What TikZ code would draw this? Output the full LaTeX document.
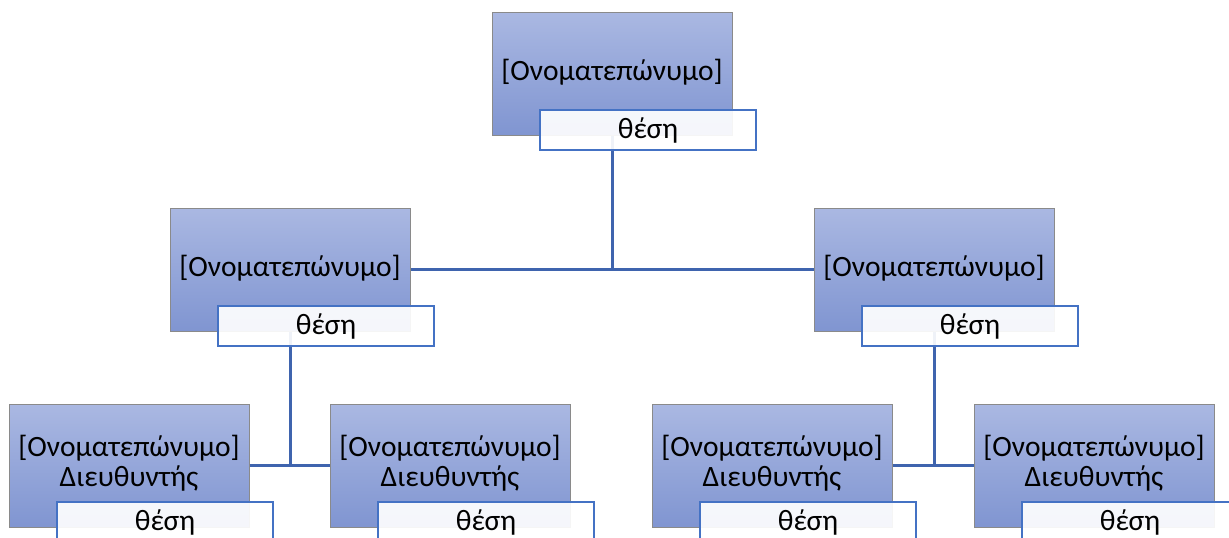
\documentclass[tikz,border=0pt]{standalone}
\usepackage{fontspec}
\setmainfont{Carlito}
\definecolor{boxtop}{HTML}{AAB8E2}
\definecolor{boxbot}{HTML}{8095D1}
\definecolor{boxline}{HTML}{8A8A8A}
\definecolor{linkblue}{HTML}{3F64AE}
\definecolor{lblline}{HTML}{4472C4}
\tikzset{
  person/.style={rectangle, draw=boxline, line width=1pt, top color=boxtop, bottom color=boxbot,
    minimum width=240pt, minimum height=123pt, inner sep=0pt, font=\fontsize{29.5}{31}\selectfont, align=center},
  role/.style={rectangle, draw=lblline, line width=1.4pt, fill=white, fill opacity=0.92, text opacity=1,
    minimum width=216pt, minimum height=40pt, inner sep=0pt, font=\fontsize{29.5}{31}\selectfont},
  link/.style={draw=linkblue, line width=3pt}
}
\begin{document}
\begin{tikzpicture}[x=1pt,y=-1pt]
\useasboundingbox (0,0) rectangle (1229,538);
% person boxes
\node[person] (top) at (612,73.5) {\raisebox{7pt}{[Ονοματεπώνυμο]}};
\node[person] (ml) at (290,269.5) {\raisebox{8pt}{[Ονοματεπώνυμο]}};
\node[person] (mr) at (934,269.5) {\raisebox{8pt}{[Ονοματεπώνυμο]}};
\node[person] (b1) at (129,465.5) {\raisebox{9pt}{\shortstack{[Ονοματεπώνυμο]\\[1pt]Διευθυντής}}};
\node[person] (b2) at (450,465.5) {\raisebox{9pt}{\shortstack{[Ονοματεπώνυμο]\\[1pt]Διευθυντής}}};
\node[person] (b3) at (772,465.5) {\raisebox{9pt}{\shortstack{[Ονοματεπώνυμο]\\[1pt]Διευθυντής}}};
\node[person] (b4) at (1094,465.5) {\raisebox{9pt}{\shortstack{[Ονοματεπώνυμο]\\[1pt]Διευθυντής}}};
% connectors (drawn before labels so labels overlay them)
\coordinate (jt) at (612,269);
\draw[link] (top.south) -- (jt);
\draw[link] (ml.east |- jt) -- (mr.west |- jt);
\coordinate (jl) at (290,465);
\draw[link] (ml.south) -- (jl);
\draw[link] (b1.east |- jl) -- (b2.west |- jl);
\coordinate (jr) at (934,465);
\draw[link] (mr.south) -- (jr);
\draw[link] (b3.east |- jr) -- (b4.west |- jr);
% role labels
\node[role] (rt) at (648,130) {θέση};
\node[role] (rml) at (326,326) {θέση};
\node[role] (rmr) at (970,326) {θέση};
\node[role] (rb1) at (165,522) {\raisebox{-3pt}{θέση}};
\node[role] (rb2) at (486,522) {\raisebox{-3pt}{θέση}};
\node[role] (rb3) at (808,522) {\raisebox{-3pt}{θέση}};
\node[role] (rb4) at (1130,522) {\raisebox{-3pt}{θέση}};
\end{tikzpicture}
\end{document}
